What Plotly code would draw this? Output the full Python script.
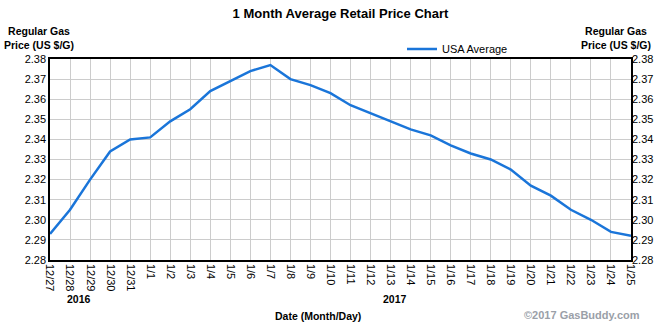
import plotly.graph_objects as go

dates = ["12/27", "12/28", "12/29", "12/30", "12/31",
         "1/1", "1/2", "1/3", "1/4", "1/5", "1/6", "1/7", "1/8", "1/9", "1/10",
         "1/11", "1/12", "1/13", "1/14", "1/15", "1/16", "1/17", "1/18", "1/19",
         "1/20", "1/21", "1/22", "1/23", "1/24", "1/25"]
usa_average = [2.293, 2.305, 2.320, 2.334, 2.340,
               2.341, 2.349, 2.355, 2.364, 2.369, 2.374, 2.377, 2.370, 2.367, 2.363,
               2.357, 2.353, 2.349, 2.345, 2.342, 2.337, 2.333, 2.330, 2.325,
               2.317, 2.312, 2.305, 2.300, 2.294, 2.292]
y_ticks = [2.28, 2.29, 2.30, 2.31, 2.32, 2.33, 2.34, 2.35, 2.36, 2.37, 2.38]

FONT = "Liberation Sans, Arial, sans-serif"
W, H = 670, 325
ML, MR, MT, MB = 50, 39, 59, 65
PW, PH = W - ML - MR, H - MT - MB


def px_x(x):
    return (x - ML) / PW


def px_y(y):
    return (H - MB - y) / PH


fig = go.Figure()
fig.add_trace(go.Scatter(x=dates, y=usa_average, mode="lines", name="USA Average",
                         line=dict(color="#1a75d9", width=2.5), yaxis="y"))
fig.add_trace(go.Scatter(x=dates, y=usa_average, mode="lines", showlegend=False,
                         line=dict(color="rgba(0,0,0,0)", width=0), yaxis="y2",
                         hoverinfo="skip"))

axis_common = dict(showline=True, linecolor="black", linewidth=1.5, mirror=True,
                   showgrid=True, gridcolor="#cccccc", gridwidth=1, ticks="",
                   zeroline=False, tickfont=dict(family=FONT, size=11, color="black"))

fig.update_layout(
    width=W, height=H,
    margin=dict(l=ML, r=MR, t=MT, b=MB),
    paper_bgcolor="white", plot_bgcolor="white",
    font=dict(family=FONT, size=11, color="black"),
    title=dict(text="1 Month Average Retail Price Chart", x=0.5, xanchor="center",
               xref="paper", y=1 - 13.5 / H, yanchor="middle",
               font=dict(family=FONT, size=13, color="black", weight="bold")),
    xaxis=dict(type="category", range=[0, len(dates) - 1], tickangle=90,
               tickmode="array", tickvals=dates, ticktext=dates, **axis_common),
    yaxis=dict(range=[y_ticks[0], y_ticks[-1]], tickvals=y_ticks,
               tickformat=".2f", **axis_common),
    yaxis2=dict(range=[y_ticks[0], y_ticks[-1]], tickvals=y_ticks, tickformat=".2f",
                overlaying="y", side="right", showgrid=False, showline=False,
                ticks="", zeroline=False,
                tickfont=dict(family=FONT, size=11, color="black")),
    showlegend=True,
    legend=dict(x=px_x(402), xanchor="left", y=px_y(49), yanchor="middle",
                orientation="h", bgcolor="rgba(0,0,0,0)",
                font=dict(family=FONT, size=11, color="black"),
                itemwidth=30),
)

ann_font = dict(family=FONT, size=10.5, color="black", weight="bold")
annotations = [
    dict(text="Regular Gas<br>Price (US $/G)", x=38.5, y=38.5),
    dict(text="Regular Gas<br>Price (US $/G)", x=616, y=38.5),
    dict(text="2016", x=79, y=299),
    dict(text="2017", x=395, y=299),
    dict(text="Date (Month/Day)", x=318, y=316),
]
for a in annotations:
    fig.add_annotation(text=a["text"], xref="paper", yref="paper",
                       x=px_x(a["x"]), y=px_y(a["y"]),
                       xanchor="center", yanchor="middle", align="center",
                       showarrow=False, font=ann_font)
fig.add_annotation(text="©2017 GasBuddy.com", xref="paper", yref="paper",
                   x=px_x(642), y=px_y(315),
                   xanchor="right", yanchor="middle", showarrow=False,
                   font=dict(family=FONT, size=11, color="#9aa0a8", weight="bold"))

fig.write_html("out.html")
